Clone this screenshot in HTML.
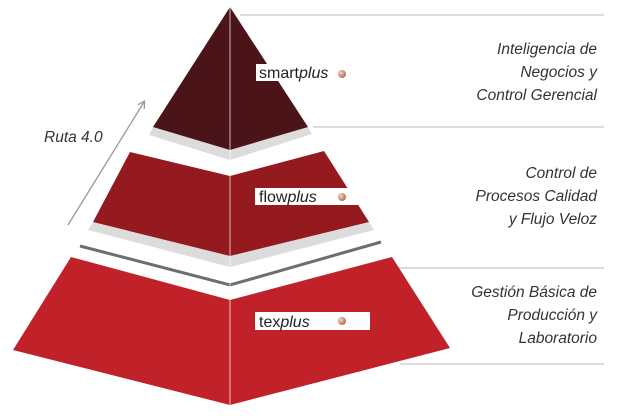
<!DOCTYPE html>
<html><head><meta charset="utf-8"><style>
html,body{margin:0;padding:0;background:#fff;}
svg{display:block}
text{font-family:"Liberation Sans",sans-serif;}
</style></head><body>
<svg width="623" height="420" viewBox="0 0 623 420" xmlns="http://www.w3.org/2000/svg">
<defs>
<radialGradient id="dot" cx="0.35" cy="0.35" r="0.7">
<stop offset="0" stop-color="#f3d2bf"/><stop offset="1" stop-color="#b06a55"/>
</radialGradient>
<marker id="ah" markerWidth="8" markerHeight="8" refX="6" refY="4" orient="auto" markerUnits="userSpaceOnUse">
<path d="M0,0 L7,4 L0,8" fill="none" stroke="#999" stroke-width="1.3"/>
</marker>
</defs>
<g stroke="#b8b8b8" stroke-width="1">
<line x1="240" y1="15" x2="604" y2="15"/>
<line x1="313" y1="127" x2="604" y2="127"/>
<line x1="396" y1="268" x2="604" y2="268"/>
<line x1="400" y1="364" x2="604" y2="364"/>
</g>
<polygon points="149,135 230,160 312,134 308,127 230,150 153,127" fill="#dcdcdc"/>
<polygon points="88,230 230,267 374,230 369,222 230,256 93,222" fill="#dcdcdc"/>
<polyline points="80,246 230,285 381,242" fill="none" stroke="#6e6e6e" stroke-width="3"/>
<polygon points="230,7 308,127 230,150 153,127" fill="#4a1418"/>
<polygon points="130,152 230,176 324,151 369,222 230,256 93,222" fill="#951a20"/>
<polygon points="71,257 230,300 392,257 450,348 230,405 13,350" fill="#c1222a"/>
<line x1="230" y1="7" x2="230" y2="405" stroke="#ffffff" stroke-opacity="0.7" stroke-width="1"/>
<rect x="256" y="64" width="82" height="17" fill="#fff"/>
<text x="259" y="78" font-size="16" fill="#222">smart<tspan font-style="italic">plus</tspan></text>
<circle cx="342" cy="74" r="4" fill="url(#dot)"/>
<rect x="255" y="188" width="105" height="17" fill="#fff"/>
<text x="259" y="202" font-size="16" fill="#222">flow<tspan font-style="italic">plus</tspan></text>
<circle cx="342" cy="197" r="4" fill="url(#dot)"/>
<rect x="255" y="312" width="115" height="18" fill="#fff"/>
<text x="259" y="327" font-size="16" fill="#222">tex<tspan font-style="italic">plus</tspan></text>
<circle cx="342" cy="321" r="4" fill="url(#dot)"/>
<line x1="68" y1="225" x2="144" y2="102" stroke="#999" stroke-width="1.3" marker-end="url(#ah)"/>
<text x="44" y="142" font-size="15.5" font-style="italic" fill="#333">Ruta 4.0</text>
<g font-size="15.5" font-style="italic" fill="#333" text-anchor="end">
<text x="597" y="54">Inteligencia de</text>
<text x="597" y="77">Negocios y</text>
<text x="597" y="100">Control Gerencial</text>
<text x="597" y="178">Control de</text>
<text x="597" y="201">Procesos Calidad</text>
<text x="597" y="224">y Flujo Veloz</text>
<text x="597" y="297">Gestión Básica de</text>
<text x="597" y="320">Producción y</text>
<text x="597" y="343">Laboratorio</text>
</g>
</svg>
</body></html>
